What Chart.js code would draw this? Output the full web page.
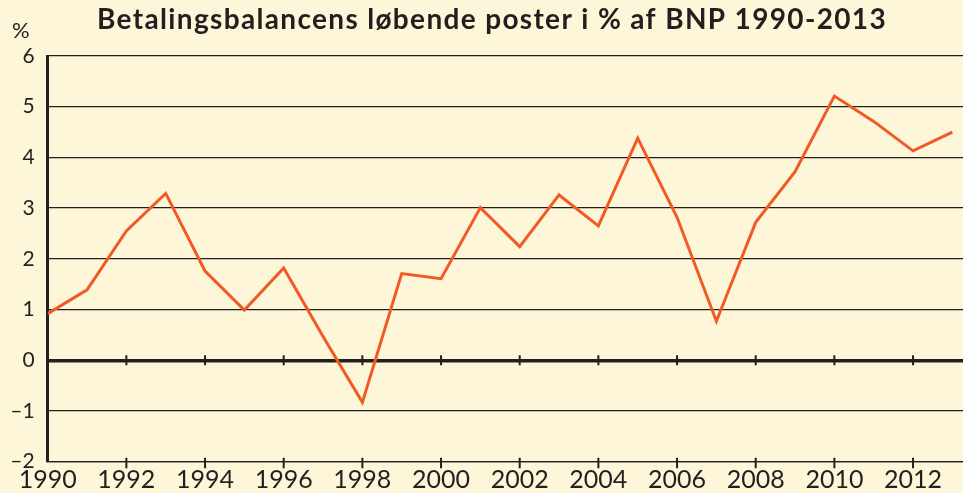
<!DOCTYPE html>
<html>
<head>
<meta charset="utf-8">
<script src="https://cdn.jsdelivr.net/npm/chart.js@4.4.1/dist/chart.umd.min.js"></script>
<style>
    html, body { margin: 0; padding: 0; background: #fef6d8; }
    #wrap { width: 963px; height: 493px; }
</style>
</head>
<body>
<div id="wrap"><canvas id="chart" width="963" height="493"></canvas></div>
<script>
// --- Data ---
const years = [1990, 1991, 1992, 1993, 1994, 1995, 1996, 1997, 1998, 1999, 2000, 2001,
               2002, 2003, 2004, 2005, 2006, 2007, 2008, 2009, 2010, 2011, 2012, 2013];
const currentAccount = [0.92, 1.39, 2.55, 3.29, 1.76, 0.99, 1.82, 0.47, -0.83, 1.71, 1.61, 3.01,
                        2.24, 3.26, 2.65, 4.38, 2.82, 0.77, 2.72, 3.72, 5.21, 4.71, 4.13, 4.50];
const xTickYears = [1990, 1992, 1994, 1996, 1998, 2000, 2002, 2004, 2006, 2008, 2010, 2012];
const yTicks = [-2, -1, 0, 1, 2, 3, 4, 5, 6];

const titleText = 'Betalingsbalancens løbende poster i % af BNP 1990-2013';
const unitText = '%';

const INK = '#231f20';
const BG = '#fef6d8';
const LINE = '#f15a24';
const FONT = 'Lato, "Open Sans", sans-serif';

// background, title, unit label and the little year ticks
const decorations = {
    id: 'decorations',
    beforeDraw(chart) {
        const ctx = chart.ctx;
        ctx.save();
        ctx.fillStyle = BG;
        ctx.fillRect(0, 0, chart.width, chart.height);
        ctx.restore();
    },
    afterDraw(chart) {
        const { ctx, chartArea, scales } = chart;
        ctx.save();
        ctx.fillStyle = INK;
        ctx.textBaseline = 'alphabetic';

        // title, stretched a little to the width of the original
        ctx.font = `bold 28px ${FONT}`;
        ctx.textAlign = 'center';
        const w = ctx.measureText(titleText).width;
        ctx.letterSpacing = Math.max(0, (790 - w) / titleText.length) + 'px';
        ctx.fillText(titleText, 492, 29);
        ctx.letterSpacing = '0px';

        ctx.font = `22px ${FONT}`;
        ctx.textAlign = 'left';
        ctx.fillText(unitText, 12, 38);

        // ticks on the zero line and the bottom axis
        const y0 = scales.y.getPixelForValue(0);
        const yb = chartArea.bottom;
        ctx.strokeStyle = INK;
        ctx.lineWidth = 2;
        xTickYears.forEach(yr => {
            if (yr === xTickYears[0]) return;
            const x = scales.x.getPixelForValue(yr);
            ctx.beginPath();
            ctx.moveTo(x, y0 - 5);
            ctx.lineTo(x, y0 + 5);
            ctx.moveTo(x, yb - 4);
            ctx.lineTo(x, yb + 6.5);
            ctx.stroke();
        });
        ctx.restore();
    }
};

new Chart(document.getElementById('chart'), {
    type: 'line',
    data: {
        datasets: [{
            data: years.map((yr, i) => ({ x: yr, y: currentAccount[i] })),
            borderColor: LINE,
            borderWidth: 3,
            borderJoinStyle: 'miter',
            pointRadius: 0,
            tension: 0,
            fill: false
        }]
    },
    options: {
        responsive: false,
        animation: false,
        layout: { padding: { top: 56, right: 0, bottom: 0, left: 0 } },
        plugins: {
            legend: { display: false },
            title: { display: false },
            tooltip: { enabled: false }
        },
        scales: {
            x: {
                type: 'linear',
                min: 1990,
                max: 2013.27,
                afterBuildTicks: scale => { scale.ticks = xTickYears.map(v => ({ value: v })); },
                afterFit: scale => {
                    scale.height = 31.3;
                    scale.paddingLeft = 0;
                    scale.paddingRight = 0;
                },
                ticks: {
                    color: INK,
                    font: { family: FONT, size: 25 },
                    padding: 3,
                    maxRotation: 0,
                    autoSkip: false,
                    callback: v => String(v)
                },
                grid: { display: false, drawTicks: false },
                border: { display: true, color: INK, width: 1.3 }
            },
            y: {
                min: -2,
                max: 6,
                afterBuildTicks: scale => { scale.ticks = yTicks.map(v => ({ value: v })); },
                afterFit: scale => {
                    scale.width = 47.7;
                    scale.paddingTop = 0;
                    scale.paddingBottom = 0;
                },
                ticks: {
                    color: INK,
                    font: { family: FONT, size: 21 },
                    padding: 13,
                    callback: v => (v < 0 ? '\u2013' + Math.abs(v) : String(v))
                },
                grid: {
                    color: INK,
                    drawTicks: false,
                    lineWidth: c => (c.tick && c.tick.value === 0 ? 3.5 : 1.3)
                },
                border: { display: true, color: INK, width: 3 }
            }
        }
    },
    plugins: [decorations]
});
</script>
</body>
</html>
